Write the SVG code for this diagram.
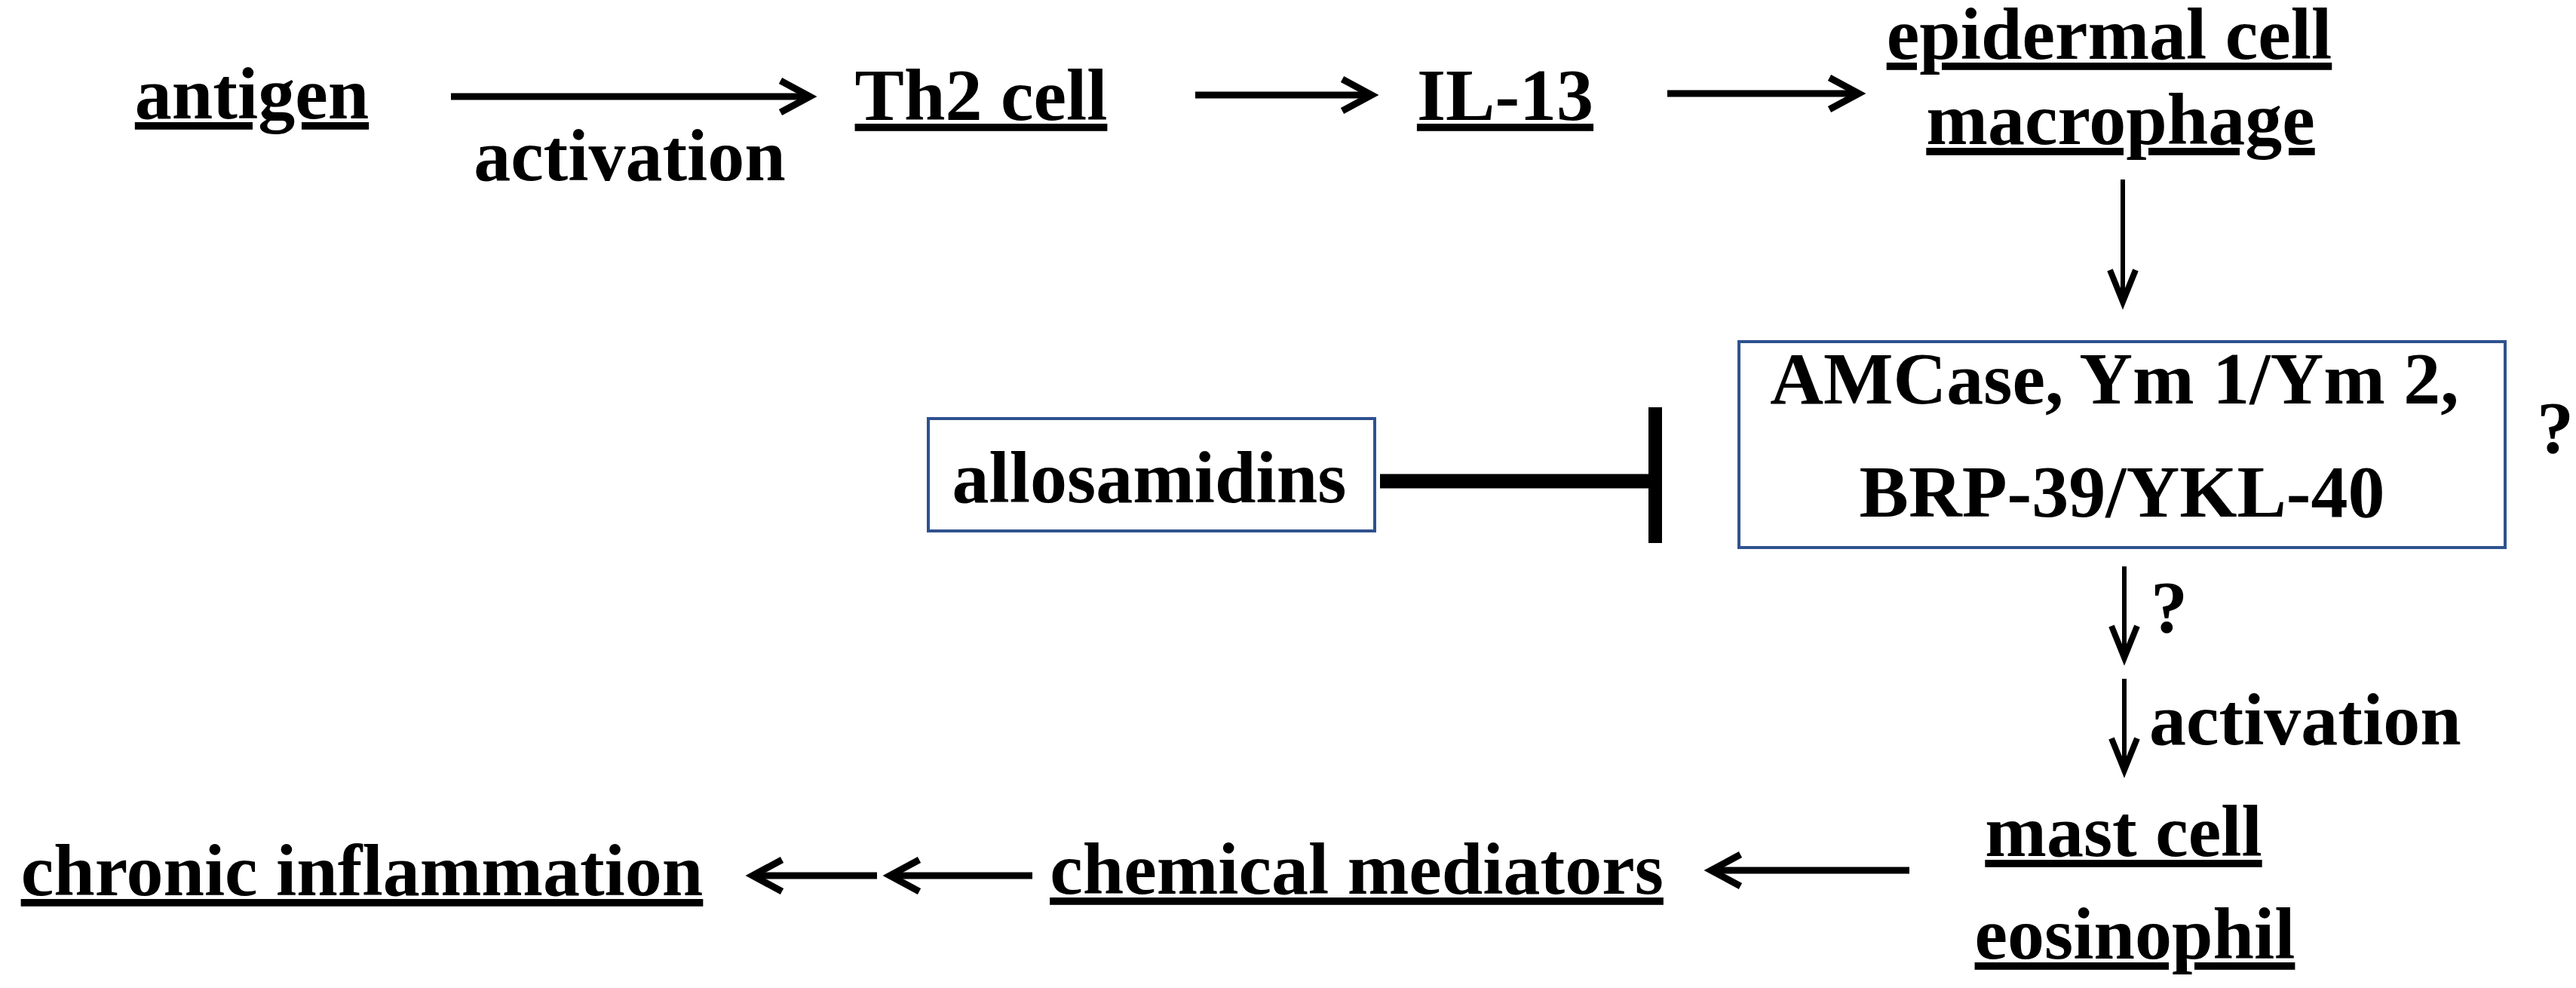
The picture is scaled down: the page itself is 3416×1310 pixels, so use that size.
<svg xmlns="http://www.w3.org/2000/svg" width="3416" height="1310" viewBox="0 0 3416 1310">
<defs>
<style>
text{font-family:"Liberation Serif","Times New Roman",serif;font-weight:bold;font-size:98px;fill:#000}
.u{text-decoration:underline;text-decoration-skip-ink:none;text-decoration-thickness:6px;text-underline-offset:9px}
.m{text-anchor:middle}
.box{fill:#fff;stroke:#2F528F;stroke-width:4}
.thick{stroke:#000;stroke-width:9;fill:none}
.thin{stroke:#000;stroke-width:6;fill:none}
</style>
<marker id="headThick" markerUnits="userSpaceOnUse" viewBox="-50 -30 60 60" refX="0" refY="0" markerWidth="60" markerHeight="60" orient="auto" overflow="visible">
<path d="M-39,-21 L0,0 L-39,21" fill="none" stroke="#000" stroke-width="9" stroke-linejoin="miter"/>
</marker>
<marker id="headThin" markerUnits="userSpaceOnUse" viewBox="-50 -30 60 60" refX="0" refY="0" markerWidth="60" markerHeight="60" orient="auto" overflow="visible">
<path d="M-42,-17 L0,0 L-42,17" fill="none" stroke="#000" stroke-width="8" stroke-linejoin="miter"/>
</marker>
</defs>
<rect width="3416" height="1310" fill="#fff"/>
<g id="connectors">
<line class="thick" x1="598" y1="128" x2="1074" y2="128" marker-end="url(#headThick)"/>
<line class="thick" x1="1585" y1="126" x2="1819" y2="126" marker-end="url(#headThick)"/>
<line class="thick" x1="2211" y1="124" x2="2465" y2="124" marker-end="url(#headThick)"/>
<line class="thin" x1="2815" y1="238" x2="2815" y2="400" marker-end="url(#headThin)"/>
<line class="thin" x1="2817" y1="751" x2="2817" y2="872" marker-end="url(#headThin)"/>
<line class="thin" x1="2817" y1="900" x2="2817" y2="1021" marker-end="url(#headThin)"/>
<line class="thick" x1="2532" y1="1154" x2="2269" y2="1154" marker-end="url(#headThick)"/>
<line class="thick" x1="1369" y1="1161" x2="1180" y2="1161" marker-end="url(#headThick)"/>
<line class="thick" x1="1163" y1="1161" x2="998" y2="1161" marker-end="url(#headThick)"/>
<line x1="1830" y1="638" x2="2190" y2="638" stroke="#000" stroke-width="19"/>
<rect x="2186" y="540" width="18" height="180" fill="#000"/>
<text x="835" y="239" class="m">activation</text>
<text x="2852" y="838">?</text>
<text x="2850" y="987">activation</text>
</g>
<g id="antigen"><text x="334" y="157" class="m u">antigen</text></g>
<g id="th2"><text x="1301" y="159" class="m u">Th2 cell</text></g>
<g id="il13"><text x="1996" y="159" class="m u">IL-13</text></g>
<g id="epidermal"><text x="2797" y="78" class="m u">epidermal cell</text><text x="2812" y="191" class="m u">macrophage</text></g>
<g id="allosamidins"><rect class="box" x="1231" y="555" width="592" height="149"/><text x="1524" y="666" class="m">allosamidins</text></g>
<g id="amcase"><rect class="box" x="2306" y="453" width="1016" height="273"/><text x="2804" y="535" class="m">AMCase, Ym 1/Ym 2,</text><text x="2814" y="685" class="m">BRP-39/YKL-40</text></g>
<g id="question"><text x="3364" y="600">?</text></g>
<g id="mast"><text x="2816" y="1135" class="m u">mast cell</text><text x="2831" y="1271" class="m u">eosinophil</text></g>
<g id="mediators"><text x="1799" y="1185" class="m u">chemical mediators</text></g>
<g id="chronic"><text x="480" y="1187" class="m u">chronic inflammation</text></g>
</svg>
